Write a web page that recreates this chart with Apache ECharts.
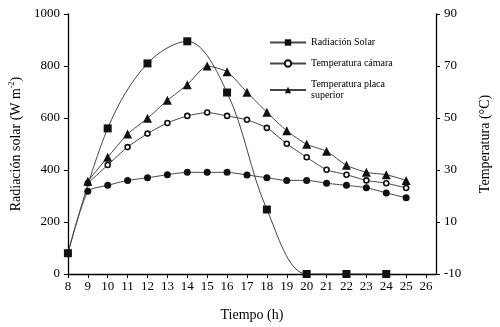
<!DOCTYPE html>
<html><head><meta charset="utf-8">
<script src="https://cdn.jsdelivr.net/npm/echarts@6/dist/echarts.min.js"></script>
<style>html,body{margin:0;padding:0;background:#fff}#c{width:500px;height:327px}</style>
</head><body><div id="c"></div>
<script>
var hoursRad = [8, 10, 12, 14, 16, 18, 20, 22, 24];
var radiacion = [80, 560, 810, 895, 698, 248, 0, 0, 0];
var hoursTemp = [9, 10, 11, 12, 13, 14, 15, 16, 17, 18, 19, 20, 21, 22, 23, 24, 25];
var tempCamara = [24.9, 31.9, 38.8, 44.0, 48.1, 50.8, 52.1, 50.8, 49.3, 46.2, 40.1, 34.9, 30.1, 28.2, 26.0, 24.9, 23.1];
var tempPlaca = [25.7, 34.9, 43.8, 49.9, 56.8, 62.8, 70.0, 67.8, 59.9, 52.2, 45.1, 39.9, 37.2, 31.8, 29.1, 28.2, 26.0];
var hoursAmb = [8, 9, 10, 11, 12, 13, 14, 15, 16, 17, 18, 19, 20, 21, 22, 23, 24, 25];
var tempAmb = [-2.0, 21.8, 24.1, 26.0, 27.0, 28.2, 29.1, 29.1, 29.1, 28.1, 27.0, 26.0, 26.0, 24.9, 24.1, 23.2, 21.2, 19.3];
var xTicks = [8, 9, 10, 11, 12, 13, 14, 15, 16, 17, 18, 19, 20, 21, 22, 23, 24, 25, 26];

function pairs(xs, ys) { return xs.map(function (x, i) { return [x, ys[i]]; }); }

var serif = 'Liberation Serif';
var lineCol = '#444';
var mk = '#111';

var chart = echarts.init(document.getElementById('c'), null, {renderer: 'canvas'});
chart.setOption({
  animation: false,
  backgroundColor: '#fff',
  textStyle: {fontFamily: serif, color: '#000'},
  grid: {left: 62, right: 61, top: 14, bottom: 46},
  legend: {
    orient: 'vertical', left: 264, top: 32, itemWidth: 36, itemHeight: 8, itemGap: 10,
    data: ['Radiación Solar', 'Temperatura cámara', 'Temperatura placa superior'],
    textStyle: {fontFamily: serif, fontSize: 10, color: '#000', lineHeight: 11},
    formatter: function (n) { return n === 'Temperatura placa superior' ? 'Temperatura placa\nsuperior' : n; }
  },
  xAxis: {
    type: 'value', min: 8, max: 26.5,
    name: 'Tiempo (h)', nameLocation: 'middle', nameGap: 34,
    nameTextStyle: {fontFamily: serif, fontSize: 14, color: '#000'},
    axisLine: {lineStyle: {color: '#000', width: 1.3}},
    axisTick: {length: 4, lineStyle: {color: '#000'}, customValues: xTicks},
    axisLabel: {fontFamily: serif, fontSize: 13, color: '#000', margin: 6, customValues: xTicks},
    splitLine: {show: false}
  },
  yAxis: [{
    type: 'value', min: 0, max: 1000, interval: 200,
    name: '{a|Radiación solar (W m}{s|-2}{a|)}', nameLocation: 'middle', nameGap: 40, nameRotate: 90,
    nameTextStyle: {rich: {a: {fontFamily: serif, fontSize: 14, color: '#000'}, s: {fontFamily: serif, fontSize: 8, color: '#000', verticalAlign: 'top', padding: [0, 0, 8, 0]}}},
    axisLine: {show: true, lineStyle: {color: '#000', width: 1.3}},
    axisTick: {show: true, length: 4, lineStyle: {color: '#000'}},
    axisLabel: {fontFamily: serif, fontSize: 13, color: '#000', margin: 8, formatter: function (v) { return String(v); }},
    splitLine: {show: false}
  }, {
    type: 'value', min: -10, max: 90, interval: 20, position: 'right',
    name: 'Temperatura (°C)', nameLocation: 'middle', nameGap: 42, nameRotate: 90,
    nameTextStyle: {fontFamily: serif, fontSize: 14, color: '#000'},
    axisLine: {show: true, lineStyle: {color: '#000', width: 1.3}},
    axisTick: {show: true, length: 4, lineStyle: {color: '#000'}},
    axisLabel: {fontFamily: serif, fontSize: 13, color: '#000', margin: 8},
    splitLine: {show: false}
  }],
  series: [{
    name: 'Radiación Solar', type: 'line', yAxisIndex: 0, smooth: 0.35,
    data: pairs(hoursRad, radiacion), symbol: 'rect', symbolSize: 8,
    lineStyle: {color: lineCol, width: 1}, itemStyle: {color: mk}
  }, {
    name: 'Temperatura cámara', type: 'line', yAxisIndex: 1, smooth: 0.2,
    data: pairs(hoursTemp, tempCamara), symbol: 'circle', symbolSize: 5,
    lineStyle: {color: lineCol, width: 1}, itemStyle: {color: '#fff', borderColor: mk, borderWidth: 1.6}
  }, {
    name: 'Temperatura placa superior', type: 'line', yAxisIndex: 1, smooth: 0.2,
    data: pairs(hoursTemp, tempPlaca), symbol: 'triangle', symbolSize: 9,
    lineStyle: {color: lineCol, width: 1}, itemStyle: {color: mk}
  }, {
    name: 'Ambiente', type: 'line', yAxisIndex: 1, smooth: 0.2,
    data: pairs(hoursAmb, tempAmb), symbol: 'circle', symbolSize: 7,
    lineStyle: {color: lineCol, width: 1}, itemStyle: {color: mk}
  }]
});
</script></body></html>
